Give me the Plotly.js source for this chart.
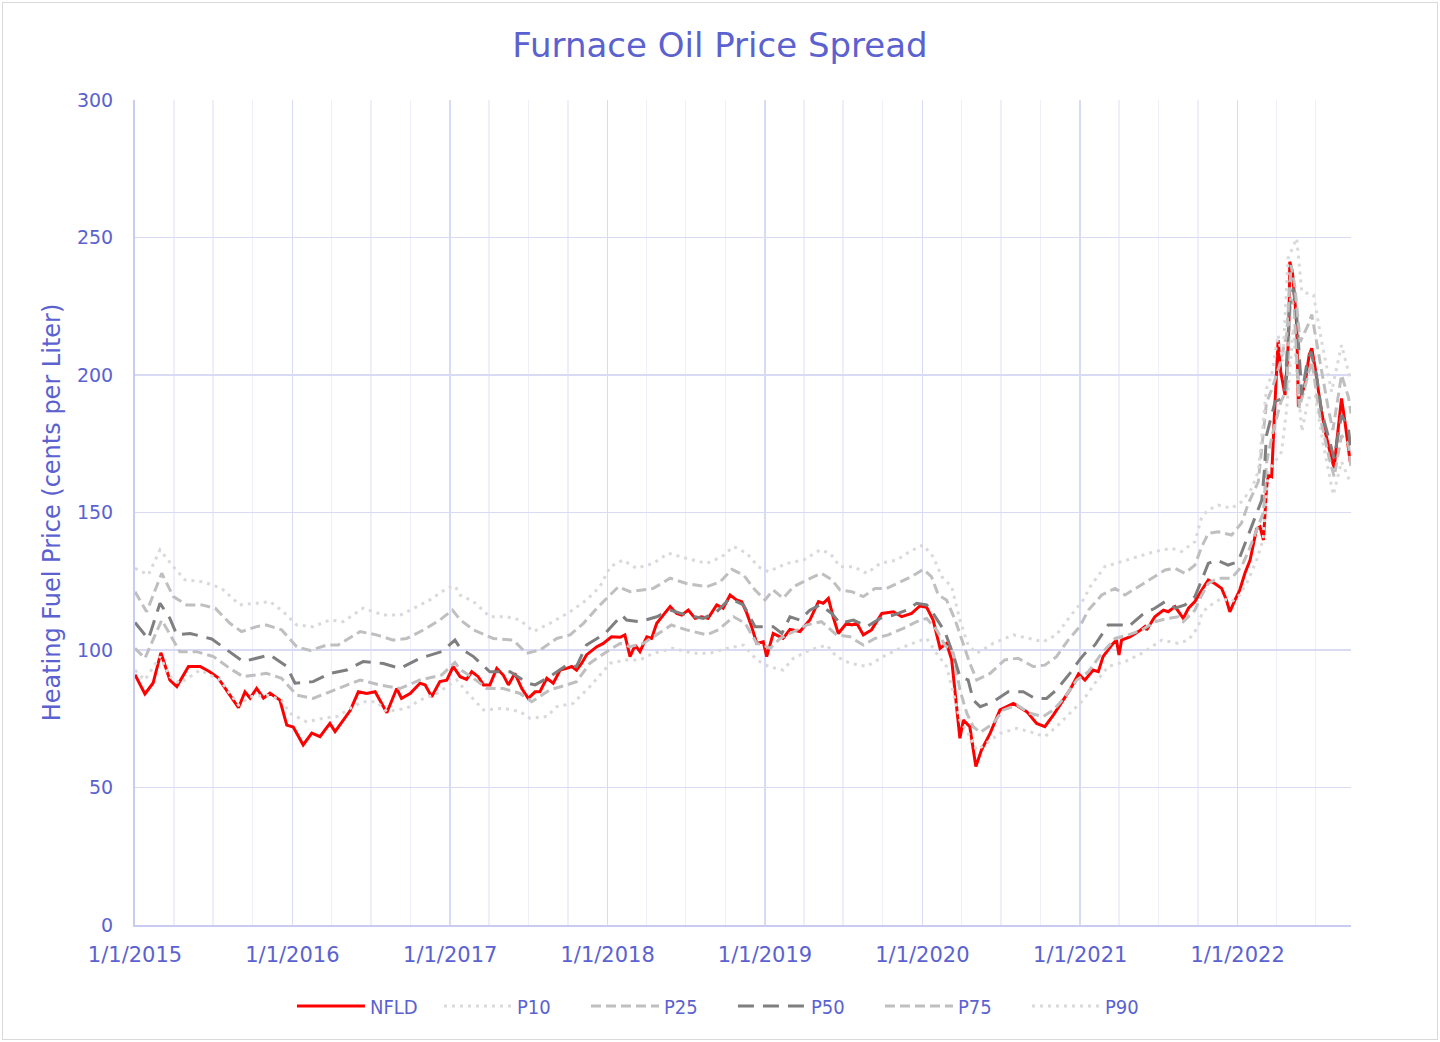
<!DOCTYPE html>
<html>
<head>
<meta charset="utf-8">
<script src="https://cdn.plot.ly/plotly-3.0.1.min.js"></script>
<style>
  html, body { margin: 0; padding: 0; background: #ffffff; }
  #wrap { position: relative; width: 1440px; height: 1042px; }
  #chart { position: absolute; left: 0; top: 0; width: 1440px; height: 1042px; }
  #frame { position: absolute; left: 2px; top: 2px; width: 1434px; height: 1036px; border: 1px solid #d9d9d9; pointer-events: none; }
</style>
</head>
<body>
<div id="wrap"><div id="chart"></div><div id="frame"></div></div>
<script>
// ---------------- DATA ----------------
const nfldDates = ["2015-01-01","2015-01-24","2015-02-12","2015-03-02","2015-03-23","2015-04-08","2015-05-05","2015-06-01","2015-06-24","2015-07-12","2015-08-09","2015-08-29","2015-09-13","2015-09-25","2015-10-10","2015-10-26","2015-11-10","2015-12-03","2015-12-19",
"2016-01-03","2016-01-26","2016-02-15","2016-03-05","2016-03-28","2016-04-09","2016-05-14","2016-06-02","2016-06-21","2016-07-11","2016-08-07","2016-08-30","2016-09-10","2016-09-30","2016-10-23","2016-11-04","2016-11-19","2016-12-08","2016-12-24",
"2017-01-08","2017-01-24","2017-02-08","2017-02-20","2017-03-07","2017-03-19","2017-04-03","2017-04-19","2017-05-04","2017-05-16","2017-05-31","2017-06-16","2017-07-01","2017-07-17","2017-07-28","2017-08-13","2017-08-28","2017-09-13","2017-09-28","2017-10-10","2017-10-21","2017-11-02","2017-11-13","2017-12-07","2017-12-22",
"2018-01-10","2018-01-30","2018-02-10","2018-02-22","2018-03-06","2018-03-17","2018-04-02","2018-04-13","2018-04-25","2018-05-10","2018-05-26","2018-06-10","2018-06-22","2018-07-07","2018-07-23","2018-08-07","2018-08-22","2018-09-11","2018-09-26","2018-10-12","2018-10-27","2018-11-08","2018-11-20","2018-12-01","2018-12-13","2018-12-28",
"2019-01-05","2019-01-20","2019-02-12","2019-02-28","2019-03-23","2019-04-15","2019-05-05","2019-05-16","2019-05-28","2019-06-08","2019-06-20","2019-07-09","2019-07-21","2019-08-02","2019-08-17","2019-09-05","2019-09-29","2019-10-26","2019-11-14","2019-12-07","2019-12-26",
"2020-01-11","2020-01-26","2020-02-11","2020-02-26","2020-03-09","2020-03-21","2020-03-28","2020-04-05","2020-04-20","2020-05-04","2020-05-17","2020-06-06","2020-06-29","2020-07-30","2020-08-30","2020-09-22","2020-10-11","2020-10-31","2020-11-19","2020-12-08","2020-12-28",
"2021-01-12","2021-01-31","2021-02-12","2021-02-23","2021-03-15","2021-03-26","2021-04-01","2021-04-07","2021-04-26","2021-05-16","2021-05-31","2021-06-04","2021-06-23","2021-07-13","2021-07-24","2021-08-09","2021-08-28","2021-09-09","2021-09-24","2021-10-10","2021-10-25","2021-11-09","2021-11-25","2021-12-06","2021-12-14","2021-12-26",
"2022-01-06","2022-01-18","2022-01-30","2022-02-14","2022-02-22","2022-03-02","2022-03-09","2022-03-13","2022-03-21","2022-03-27","2022-04-02","2022-04-05","2022-04-11","2022-04-17","2022-04-21","2022-04-27","2022-04-30","2022-05-02","2022-05-08","2022-05-14","2022-05-18","2022-05-22","2022-05-30","2022-06-06","2022-06-16","2022-06-22","2022-06-30","2022-07-11","2022-07-23","2022-08-07","2022-08-13","2022-08-19","2022-08-30","2022-09-07","2022-09-19"];
const nfldValues = [91,84,88,99,89,86.7,94,94,92,90,83.6,79,84.8,82.5,86,82.5,84.3,81.8,72.7,
72,65.5,69.8,68.5,73.3,70.3,78,84.8,84.2,84.8,77.2,86,82.4,84.2,87.9,87.3,83,88.5,89,
94,90.3,89.3,92.1,90.3,87.3,87.3,93.3,90.9,87.3,91.5,86,82.4,84.8,84.8,89.7,87.9,92.7,93.3,94,92.7,95.2,98.2,101.2,102.4,
104.8,104.6,105.5,97.6,101.8,99.4,104.8,104.2,109.7,112.7,115.8,113.3,112.7,114.5,111.5,112.1,111.5,116.4,115.2,120,118.2,117.6,113.3,108.5,102.4,103,
97.6,106,104.2,107.5,106.7,110.9,117.6,117,118.8,112.1,106,109.7,109.1,109.7,105.5,107.3,113.3,113.9,112.1,113.3,116,
115.5,110.9,100.6,102.4,96.4,79.4,67.9,74.5,72.1,57.6,63.6,69.7,78.2,80.6,77.6,73.3,72.1,76.4,81.2,85.5,91.3,
89.1,92.7,92.1,97.6,101.8,103.6,98.2,103.6,104.8,106.7,108.5,107.3,112.1,114.5,113.9,115.8,111.5,115.2,117.6,121.8,125.5,124.2,122.4,118.2,113.9,118.2,
121.8,127.9,132.7,144,144.8,140,158.8,163.6,163,184.2,201.2,212.7,201.2,196.4,192.7,206.1,218.2,241.2,237.6,226.7,218.2,188.5,193.3,196.4,207.3,209.7,202.4,190.3,179.4,169.7,166.1,175.8,191.5,183,168.5];

const p10Dates = ["2015-01-01","2015-01-24","2015-02-28","2015-03-23","2015-04-15","2015-06-01","2015-07-17","2015-08-29","2015-09-25","2015-11-02","2015-12-07","2015-12-26",
"2016-02-03","2016-03-13","2016-04-13","2016-05-14","2016-06-13","2016-07-14","2016-08-07","2016-09-22","2016-10-23","2016-12-01",
"2017-01-16","2017-02-08","2017-03-19","2017-05-04","2017-06-12","2017-07-05","2017-08-13","2017-09-05","2017-10-13","2017-11-21",
"2018-01-07","2018-02-14","2018-03-17","2018-04-17","2018-06-02","2018-07-19","2018-08-26","2018-10-04","2018-11-12","2018-12-13",
"2019-01-09","2019-02-12","2019-03-08","2019-04-15","2019-05-24","2019-06-16","2019-07-17","2019-08-25","2019-10-02","2019-11-10","2019-12-19",
"2020-01-11","2020-02-03","2020-02-26","2020-03-13","2020-03-28","2020-04-16","2020-05-06","2020-05-29","2020-06-29","2020-08-07","2020-09-06","2020-10-11","2020-11-07","2020-12-08",
"2021-01-08","2021-02-04","2021-03-07","2021-04-15","2021-05-24","2021-07-09","2021-08-16","2021-09-09","2021-10-02","2021-10-10","2021-10-25","2021-11-25","2021-12-18",
"2022-01-06","2022-01-26","2022-02-14","2022-03-01","2022-03-13","2022-04-13","2022-04-25","2022-05-10","2022-05-30","2022-06-14","2022-06-30","2022-07-19","2022-08-11","2022-08-30","2022-09-19"];
const p10Values = [92.7,89.1,97.6,90.3,87.9,92.7,89.1,80,83,83.6,81.8,77,
73.9,75.2,75.8,78.8,81.2,81.2,77.6,78.8,81.8,84.2,
89.1,84.8,78.2,78.8,77.6,75.2,75.8,79.4,80.6,86.7,
95.2,96.4,96.4,98.8,100.6,98.8,98.8,100.6,101.8,96.4,
94,92.7,97,100,101.8,97.6,95.2,94,97.6,100.6,103,
104.2,98.8,94,84.2,74.5,69.7,63.6,66.1,69.7,71.5,70.3,68.5,72.1,77,
81.8,87.9,94,95.8,98.8,103.6,102.4,103.6,108.5,113.3,115.8,118.8,117.6,
120,125.5,132.7,140,164.8,172.1,187.9,217,179.4,191.5,192.7,174.5,156.4,168.5,161.2];

const p25Dates = ["2015-01-01","2015-01-24","2015-03-04","2015-03-23","2015-04-15","2015-05-24","2015-07-02","2015-08-09","2015-09-09","2015-11-02","2015-12-07",
"2016-01-11","2016-02-18","2016-03-28","2016-04-28","2016-06-06","2016-07-22","2016-09-07","2016-10-23","2016-12-12",
"2017-01-12","2017-01-24","2017-02-24","2017-03-27","2017-05-04","2017-06-12","2017-07-09","2017-08-20","2017-09-28","2017-10-21","2017-11-21","2017-12-30",
"2018-01-30","2018-02-22","2018-03-25","2018-04-25","2018-05-29","2018-07-03","2018-08-19","2018-09-15","2018-10-20","2018-11-16","2018-12-13",
"2019-01-01","2019-01-13","2019-02-05","2019-03-08","2019-04-08","2019-05-12","2019-06-16","2019-07-17","2019-08-17","2019-09-13","2019-10-14","2019-11-18","2019-12-19",
"2020-01-11","2020-02-03","2020-02-22","2020-03-13","2020-03-28","2020-04-13","2020-04-28","2020-05-14","2020-06-13","2020-07-07","2020-08-07","2020-09-06","2020-10-07","2020-10-31","2020-11-27","2020-12-24",
"2021-01-20","2021-02-20","2021-03-23","2021-04-23","2021-05-24","2021-06-23","2021-07-24","2021-08-16","2021-08-28","2021-09-24","2021-10-10","2021-10-25","2021-11-17","2021-12-18",
"2022-01-10","2022-01-26","2022-02-14","2022-03-02","2022-03-09","2022-03-22","2022-04-11","2022-04-25","2022-05-04","2022-05-12","2022-05-24","2022-06-10","2022-06-22","2022-07-11","2022-08-01","2022-08-13","2022-08-30","2022-09-15","2022-09-21"];
const p25Values = [100.6,97,110.9,105.5,99.4,99.4,97.6,93.3,90.3,91.5,89.7,
83.6,82.4,84.8,86.7,89.1,87.3,86,89.1,90.9,
95.5,93,89.7,86,86,84.2,81.2,85.5,87.3,88.5,95.2,99.4,
102.4,101.2,102.4,105.5,109.1,107.3,105.5,107.3,112.1,109.7,102.4,
101.5,100.6,104.2,106.7,109.1,110.3,105.5,104.8,101.8,104.2,105.5,107.9,110.3,
111.5,107.3,101.8,98.8,85.5,77,72.1,70,73.3,78.2,80,77,75.8,78.2,83,89.1,
92.1,98.8,104.2,105.5,107.3,110.3,111.5,112.1,110.3,114.5,120,124.2,126.1,126.1,
130.3,135.8,143.6,150,168,178,190,195,228,225,188,198,205,185,170,163,178,175,166];

const p50Dates = ["2015-01-01","2015-02-01","2015-02-28","2015-03-23","2015-04-08","2015-05-09","2015-06-28","2015-08-09","2015-09-09","2015-11-10","2015-12-19",
"2016-01-07","2016-02-18","2016-03-28","2016-05-06","2016-06-13","2016-07-30","2016-09-07","2016-10-23","2016-12-12",
"2017-01-12","2017-01-24","2017-02-24","2017-04-03","2017-05-20","2017-07-01","2017-07-17","2017-08-20","2017-09-28","2017-10-21","2017-11-13","2017-12-26",
"2018-02-03","2018-02-14","2018-03-17","2018-04-25","2018-05-26","2018-07-03","2018-08-11","2018-09-11","2018-10-12","2018-11-12","2018-12-09",
"2019-01-01","2019-01-20","2019-02-09","2019-02-28","2019-03-23","2019-04-15","2019-05-09","2019-06-05","2019-06-24","2019-07-25","2019-08-25","2019-09-25","2019-10-26","2019-11-26","2019-12-19",
"2020-01-11","2020-01-26","2020-02-22","2020-03-13","2020-03-28","2020-04-16","2020-04-28","2020-05-14","2020-06-13","2020-07-18","2020-08-22","2020-09-18","2020-10-15","2020-11-07","2020-12-08","2020-12-31",
"2021-01-12","2021-02-04","2021-03-07","2021-04-07","2021-04-23","2021-05-24","2021-06-23","2021-07-17","2021-08-09","2021-09-01","2021-09-24","2021-10-10","2021-10-25","2021-11-13","2021-12-10",
"2022-01-02","2022-01-22","2022-02-10","2022-02-26","2022-03-04","2022-03-09","2022-03-29","2022-04-13","2022-04-21","2022-05-02","2022-05-10","2022-05-18","2022-05-30","2022-06-10","2022-06-20","2022-07-03","2022-07-15","2022-08-03","2022-08-13","2022-08-30","2022-09-15","2022-09-21"];
const p50Values = [110,104,117,111.5,105.5,106,104,99.4,95.8,98.2,94,
87.9,88.5,91.5,92.7,95.8,95.1,93.3,97,99.4,
103.6,100.7,97.6,92.1,92.1,87.9,87.3,90.3,94.5,94,101.8,106,
112.7,110.9,110.3,112.1,114.5,112.7,111.5,113.9,118.8,116.4,108.5,
108.5,108.5,106,112.1,110.9,114.5,116.4,113.3,109.7,110.9,108.5,111.5,112.7,114.5,117,
116.4,113.3,106.7,98.2,90.3,89.1,81.8,79.4,81.2,84.8,84.8,82.4,82.4,85.5,91.5,96.5,
98.8,101.8,109.1,109.1,108.5,112.7,115.2,117.6,115.2,116.4,119.4,125.5,131.5,132.7,130.9,
132.1,140,147.9,154.5,165,178,190.3,191.5,195.1,225.5,231.5,221.8,192.7,203.6,208.5,200,186.7,175.8,169.7,185.5,180.6,172.1];

const p75Dates = ["2015-01-01","2015-01-28","2015-03-04","2015-03-31","2015-05-01","2015-06-05","2015-07-06","2015-08-09","2015-09-05","2015-10-10","2015-11-02","2015-12-07",
"2016-01-11","2016-02-11","2016-03-21","2016-04-16","2016-06-06","2016-07-14","2016-08-22","2016-09-22","2016-10-31","2016-12-08",
"2017-01-06","2017-01-24","2017-02-24","2017-04-11","2017-05-27","2017-06-27","2017-07-28","2017-09-05","2017-10-06","2017-11-06","2017-12-07","2017-12-30",
"2018-01-26","2018-02-22","2018-03-21","2018-04-17","2018-05-26","2018-07-03","2018-08-19","2018-09-19","2018-10-16","2018-11-12","2018-12-09",
"2019-01-01","2019-01-20","2019-02-12","2019-03-08","2019-04-08","2019-05-12","2019-06-05","2019-06-24","2019-07-21","2019-08-17","2019-09-13","2019-10-10","2019-11-10","2019-12-07",
"2020-01-03","2020-01-22","2020-02-07","2020-02-26","2020-03-17","2020-04-05","2020-04-20","2020-05-06","2020-06-06","2020-07-10","2020-08-10","2020-09-14","2020-10-11","2020-11-07","2020-12-04","2020-12-31",
"2021-01-20","2021-02-20","2021-03-23","2021-04-15","2021-05-16","2021-06-16","2021-07-17","2021-08-09","2021-09-01","2021-09-24","2021-10-10","2021-10-25","2021-11-17","2021-12-18",
"2022-01-10","2022-01-26","2022-02-18","2022-03-09","2022-03-22","2022-04-11","2022-04-25","2022-05-05","2022-05-14","2022-05-26","2022-06-13","2022-06-22","2022-07-11","2022-07-30","2022-08-10","2022-08-30","2022-09-15","2022-09-21"];
const p75Values = [121.2,113.9,127.9,119.4,116.4,116.4,115.2,109.7,106.7,108.5,109.1,107.3,
101.2,99.8,101.8,101.8,106.7,105.5,103.6,104.2,107.3,110.9,
114.5,111,107.3,104.2,103.6,98.8,100,104.2,105.5,109.7,115.2,118.8,
123,121.2,121.8,122.4,126.1,124.2,123,124.8,129.3,127.3,121.8,
118.2,121.8,118.8,123,125.5,127.9,125.5,121.8,121.2,119.4,122.4,122.4,124.8,126.7,
129.3,126.7,120,118.2,110.9,102.4,95.2,89.1,91.5,96.4,97,94,94.5,97.6,103.6,108.5,
114.5,120,122.4,120,123,126.1,129.1,129.7,127.9,130.9,137.6,142.4,143,141.8,
146.1,153.3,161.2,190,195,205,215,240,232,212,218,222,205,188,180,200,192,186];

const p90Dates = ["2015-01-01","2015-02-01","2015-02-28","2015-03-31","2015-04-27","2015-06-08","2015-07-21","2015-09-01","2015-10-10","2015-11-10","2015-12-11",
"2016-01-11","2016-02-18","2016-03-28","2016-04-28","2016-06-13","2016-07-30","2016-09-07","2016-09-30","2016-11-15","2016-12-24",
"2017-01-12","2017-01-24","2017-02-24","2017-04-03","2017-05-12","2017-06-12","2017-07-13","2017-08-20","2017-10-06","2017-11-13","2017-12-14",
"2018-01-07","2018-02-06","2018-03-09","2018-04-17","2018-05-22","2018-07-03","2018-08-19","2018-09-23","2018-10-20","2018-11-20","2018-12-16",
"2019-01-09","2019-02-20","2019-03-31","2019-05-09","2019-06-01","2019-06-24","2019-07-25","2019-08-25","2019-09-25","2019-11-02","2019-12-03",
"2020-01-03","2020-01-26","2020-02-15","2020-03-09","2020-03-28","2020-04-16","2020-05-06","2020-06-13","2020-07-30","2020-09-06","2020-10-07","2020-11-07","2020-12-08",
"2021-01-08","2021-01-24","2021-02-27","2021-04-07","2021-05-16","2021-06-23","2021-08-01","2021-08-24","2021-09-24","2021-10-10","2021-10-25","2021-11-17","2021-12-18",
"2022-01-10","2022-02-03","2022-02-18","2022-03-09","2022-03-21","2022-04-05","2022-04-16","2022-04-28","2022-05-18","2022-05-30","2022-06-26","2022-07-15","2022-08-07","2022-08-30","2022-09-21"];
const p90Values = [129.7,127.3,136.4,130.3,125.5,124.8,122.4,116.4,117,117.6,113.9,
109.1,108.5,110.9,110.3,115.2,112.7,112.7,114.5,118.2,122.4,
123.3,120,117.6,112.1,112.1,110.9,106.7,109.7,113.9,118.2,123,
130.3,132.7,129.7,131.5,135.2,133.3,131.5,133.9,137.6,135.2,130.3,
128.5,131.5,132.7,136.4,135.2,130.3,130.3,127.9,131.5,132.7,135.8,
138.2,133.9,126.7,123,110.9,101.8,98.8,102.4,105.5,104.2,103,105.5,112.1,
118.2,123,130.3,132.1,133.9,135.8,137,135.8,139.4,148.5,150.9,152.7,151.5,
153.9,158.8,165,195,200,214.5,205,242.4,249.7,230.3,229.1,212.1,193.9,210.9,197.6];

const seriesNames = ["NFLD","P10","P25","P50","P75","P90"];
const xRange = ["2015-01-01","2022-09-21"];
const yTickValues = [0,50,100,150,200,250,300];

// ---------------- STYLE ----------------
const TXT = "#5b62d0";
const FONT = "DejaVu Sans, Verdana, sans-serif";
const LEGEND_FONT = "DejaVu Sans Condensed, DejaVu Sans, sans-serif";
const GRID_MAJOR = "#d9dbf4";
const GRID_MINOR = "#eeeffa";
const AXIS_LINE = "#c9ccf0";

const styles = {
  NFLD: {color: "#ff0000", width: 3, dash: "solid"},
  P10:  {color: "#d9d9d9", width: 3, dash: "3px,5px"},
  P25:  {color: "#bfbfbf", width: 3, dash: "10px,5px"},
  P50:  {color: "#7f7f7f", width: 3, dash: "16px,9px"},
  P75:  {color: "#bfbfbf", width: 3, dash: "10px,5px"},
  P90:  {color: "#d9d9d9", width: 3, dash: "3px,5px"}
};

const dataMap = {
  NFLD: [nfldDates, nfldValues],
  P10: [p10Dates, p10Values],
  P25: [p25Dates, p25Values],
  P50: [p50Dates, p50Values],
  P75: [p75Dates, p75Values],
  P90: [p90Dates, p90Values]
};

const traces = seriesNames.map(name => ({
  type: "scatter",
  mode: "lines",
  name: name,
  x: dataMap[name][0],
  y: dataMap[name][1],
  line: {color: styles[name].color, width: styles[name].width, dash: styles[name].dash},
  hoverinfo: "skip"
}));

const layout = {
  width: 1440,
  height: 1042,
  margin: {l: 135, r: 89, t: 100, b: 117, autoexpand: false},
  paper_bgcolor: "#ffffff",
  plot_bgcolor: "#ffffff",
  font: {family: FONT, color: TXT},
  title: {
    text: "Furnace Oil Price Spread",
    font: {family: FONT, size: 34, color: TXT},
    x: 0.5, xanchor: "center", xref: "container",
    y: 1 - 45 / 1042, yanchor: "middle", yref: "container"
  },
  xaxis: {
    type: "date",
    range: xRange,
    tick0: "2015-01-01",
    dtick: "M12",
    tickformat: "%-m/%-d/%Y",
    showgrid: true,
    gridcolor: GRID_MAJOR,
    gridwidth: 1.5,
    minor: {dtick: "M3", tick0: "2015-01-01", showgrid: true, gridcolor: GRID_MINOR, gridwidth: 1.5},
    showline: true,
    linecolor: AXIS_LINE,
    linewidth: 2,
    zeroline: false,
    ticks: "",
    tickfont: {family: FONT, size: 21, color: TXT},
    ticklabelstandoff: 10,
    fixedrange: true
  },
  yaxis: {
    range: [0, 300],
    tickvals: yTickValues,
    showgrid: true,
    gridcolor: GRID_MAJOR,
    gridwidth: 1.5,
    showline: true,
    linecolor: AXIS_LINE,
    linewidth: 2,
    zeroline: false,
    ticks: "",
    tickfont: {family: FONT, size: 19, color: TXT},
    ticklabelstandoff: 16,
    title: {text: "Heating Fuel Price (cents per Liter)", font: {family: FONT, size: 24, color: TXT}, standoff: 10},
    fixedrange: true
  },
  showlegend: true,
  legend: {
    orientation: "h",
    xref: "container", x: 0.509, xanchor: "center",
    yref: "container", y: 1 - 1006 / 1042, yanchor: "middle",
    font: {family: LEGEND_FONT, size: 20, color: TXT},
    itemwidth: 68,
    entrywidth: 64,
    entrywidthmode: "pixels",
    bgcolor: "rgba(0,0,0,0)",
    traceorder: "normal"
  }
};

Plotly.newPlot("chart", traces, layout, {staticPlot: true, displayModeBar: false});
</script>
</body>
</html>
